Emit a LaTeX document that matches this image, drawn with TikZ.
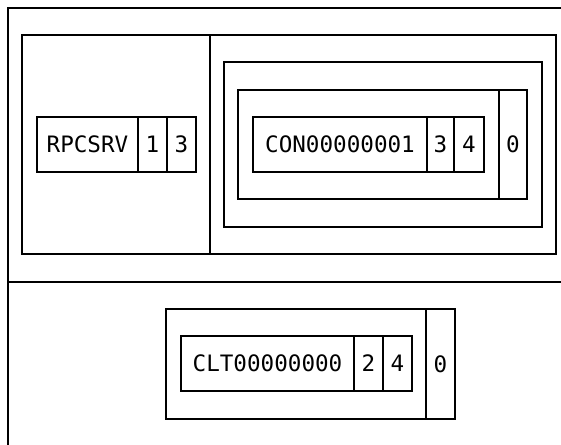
\documentclass[tikz,border=0pt]{standalone}
\usepackage{fontspec}
\setmonofont{DejaVu Sans Mono}
\usetikzlibrary{positioning}
\begin{document}
\begin{tikzpicture}[x=1pt, y=-1pt, line width=1.9pt,
    cell/.style={draw, inner sep=0, outer sep=0, minimum height=55pt,
      font=\ttfamily\fontsize{22.6}{23}\selectfont},
    slot/.style={draw, inner sep=0, outer sep=0, anchor=north west,
      font=\ttfamily\fontsize{22.6}{23}\selectfont}]
    \useasboundingbox (0,0) rectangle (561,444);
    \clip (0,0) rectangle (561,444);
    % outer frame and the two halves
    \draw (8,8) rectangle (590,470);
    \draw (8,282) -- (590,282);
    % upper half
    \draw (22,35) rectangle (556,254);
    \draw (210,35) -- (210,254);
    \node[cell, anchor=north west, minimum width=101pt] (srvname) at (37,117) {RPCSRV};
    \node[cell, minimum width=29pt, right=0pt of srvname] (srva) {1};
    \node[cell, minimum width=29pt, right=0pt of srva] (srvb) {3};
    \draw (224,62) rectangle (542,227);
    \draw (238,90) rectangle (527,199);
    \node[slot, minimum width=28pt, minimum height=109pt] (conzero) at (499,90) {0};
    \node[cell, anchor=north west, minimum width=174pt] (conname) at (253,117) {CON00000001};
    \node[cell, minimum width=27pt, right=0pt of conname] (cona) {3};
    \node[cell, minimum width=30pt, right=0pt of cona] (conb) {4};
    % lower half
    \draw (166,309) rectangle (455,419);
    \node[slot, minimum width=29pt, minimum height=110pt] (cltzero) at (426,309) {0};
    \node[cell, anchor=north west, minimum width=173pt] (cltname) at (181,336) {CLT00000000};
    \node[cell, minimum width=29pt, right=0pt of cltname] (clta) {2};
    \node[cell, minimum width=29pt, right=0pt of clta] (cltb) {4};
\end{tikzpicture}
\end{document}
